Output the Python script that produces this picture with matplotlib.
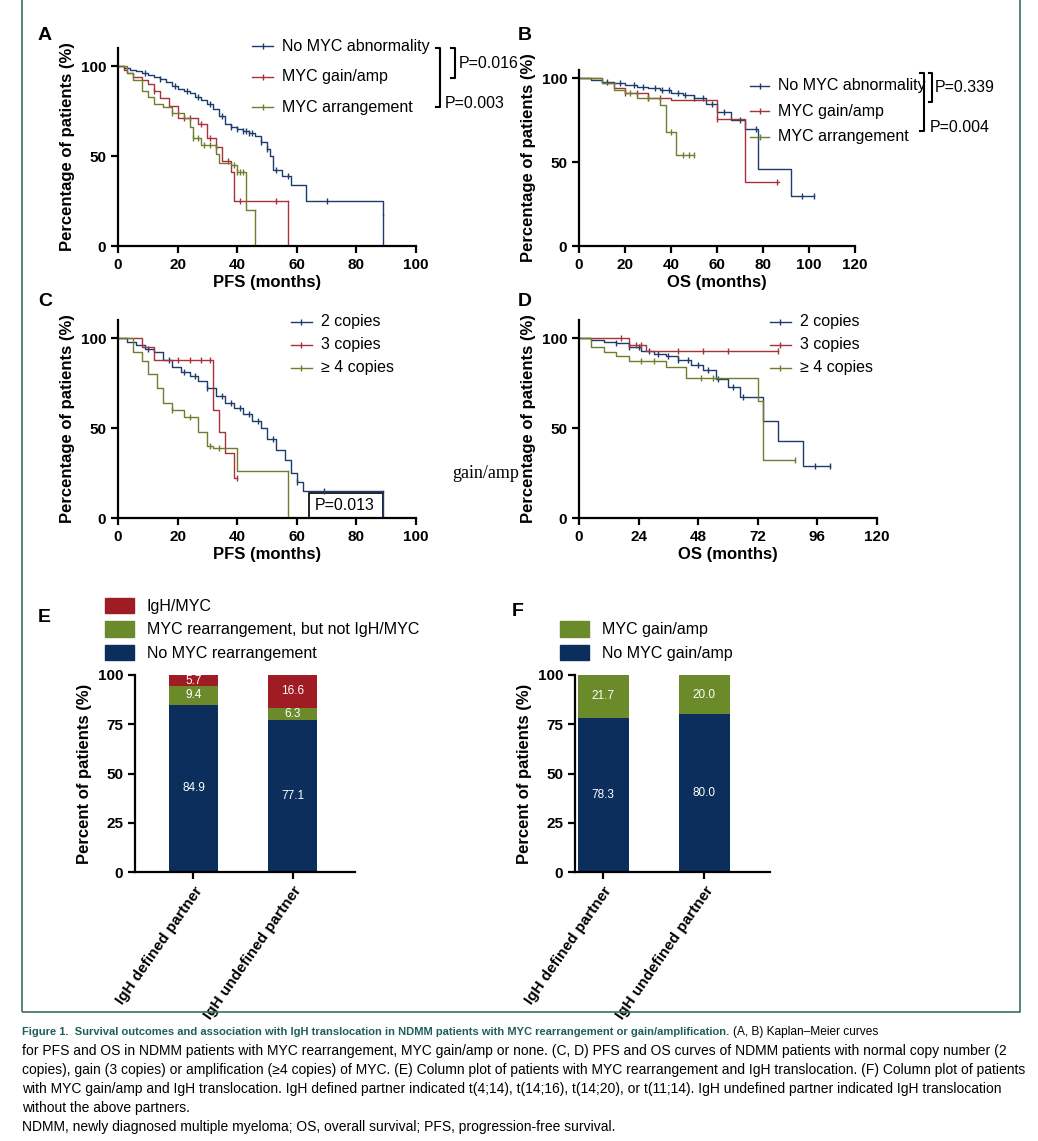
import numpy as np
import matplotlib
matplotlib.use("Agg")
import matplotlib.pyplot as plt
from matplotlib.lines import Line2D
from matplotlib.patches import Rectangle

plt.rcParams['font.family'] = ['Liberation Sans', 'DejaVu Sans']

BLUE = '#1d3c6b'
RED = '#a8323a'
OLIVE = '#6f7d2c'
NAVY = '#0b2e5c'
GRN = '#6b8a2a'
DRED = '#a01c24'

# ---- panel A (PFS by MYC status)
a_none_t = [0, 2, 4, 6, 8, 10, 12, 14, 16, 18, 20, 22, 24, 26, 28, 30, 32, 34, 36, 38, 40, 42, 44, 46, 48, 50, 51, 52, 55, 58, 63, 89]
a_none_s = [100, 99, 98, 97, 96, 95, 94, 93, 91, 89, 87, 86, 85, 83, 81, 79, 76, 72, 68, 66, 65, 64, 63, 61, 58, 54, 50, 42, 39, 34, 25, 17]
a_none_end = 89
a_none_c = [9, 14, 19, 23, 27, 31, 35, 38, 40, 42, 43, 44, 45, 48, 50, 53, 57, 70]
a_gain_t = [0, 2, 3, 5, 8, 10, 12, 14, 17, 20, 27, 30, 33, 35, 38, 39]
a_gain_s = [100, 98, 96, 94, 92, 90, 86, 82, 78, 71, 68, 60, 55, 47, 41, 25]
a_gain_end = 57
a_gain_c = [12, 22, 24, 28, 31, 33, 37, 41, 53]
a_rear_t = [0, 3, 5, 8, 10, 12, 15, 18, 22, 24, 25, 28, 33, 34, 38, 40, 43]
a_rear_s = [100, 96, 92, 86, 83, 79, 77, 74, 71, 66, 60, 56, 51, 46, 45, 41, 20]
a_rear_end = 46
a_rear_c = [18, 25, 27, 29, 31, 39, 40, 41, 42]

# ---- panel B (OS by MYC status)
b_none_t = [0, 5, 10, 15, 20, 25, 30, 35, 40, 45, 50, 55, 60, 66, 72, 78, 92]
b_none_s = [100, 99, 98, 97, 96, 95, 94, 93, 91, 90, 88, 85, 80, 75, 70, 46, 30]
b_none_end = 102
b_none_c = [12, 18, 24, 28, 33, 36, 39, 43, 46, 50, 54, 58, 63, 70, 77, 97, 102]
b_gain_t = [0, 10, 15, 20, 30, 40, 60, 72]
b_gain_s = [100, 97, 94, 91, 88, 87, 76, 38]
b_gain_end = 87
b_gain_c = [20, 25, 30, 35, 60, 86]
b_rear_t = [0, 10, 15, 20, 25, 35, 38, 42]
b_rear_s = [100, 97, 93, 91, 88, 84, 68, 54]
b_rear_end = 50
b_rear_c = [22, 30, 40, 45, 48, 50]

# ---- panel C (PFS by copy number)
c_2_t = [0, 3, 6, 9, 12, 15, 18, 21, 24, 27, 30, 33, 36, 39, 42, 45, 48, 50, 53, 56, 58, 60, 62]
c_2_s = [100, 98, 96, 94, 92, 88, 84, 81, 79, 76, 72, 68, 64, 61, 58, 54, 50, 44, 38, 32, 25, 20, 15]
c_2_end = 89
c_2_c = [10, 17, 22, 26, 30, 35, 38, 41, 44, 47, 52, 60, 69]
c_3_t = [0, 8, 12, 32, 34, 36, 39]
c_3_s = [100, 95, 88, 60, 48, 36, 22]
c_3_end = 40
c_3_c = [20, 24, 28, 31, 40]
c_4_t = [0, 5, 8, 10, 13, 15, 18, 22, 27, 30, 32, 40]
c_4_s = [100, 92, 87, 80, 72, 64, 60, 56, 48, 40, 39, 26]
c_4_end = 57
c_4_c = [18, 24, 31, 34]

# ---- panel D (OS by copy number)
d_2_t = [0, 5, 10, 15, 20, 25, 30, 35, 40, 45, 50, 55, 60, 65, 74, 80, 90]
d_2_s = [100, 99, 98, 97, 95, 93, 91, 90, 88, 85, 82, 77, 73, 67, 54, 43, 29]
d_2_end = 101
d_2_c = [15, 20, 24, 28, 32, 36, 40, 44, 48, 52, 56, 62, 66, 95, 101]
d_3_t = [0, 20, 27]
d_3_s = [100, 96, 93]
d_3_end = 80
d_3_c = [17, 20, 23, 25, 40, 50, 60, 80]
d_4_t = [0, 5, 10, 15, 20, 35, 43, 72, 74]
d_4_s = [100, 95, 92, 90, 87, 84, 78, 65, 32]
d_4_end = 87
d_4_c = [25, 30, 49, 54, 87]

# ---- panels E, F
e_groups = ['IgH defined partner', 'IgH undefined partner']
e_none = [84.9, 77.1]
e_other = [9.4, 6.3]
e_igh = [5.7, 16.6]
f_groups = ['IgH defined partner', 'IgH undefined partner']
f_none = [78.3, 80.0]
f_gain = [21.7, 20.0]

W, H = 1038, 1141
fig = plt.figure(figsize=(W / 100, H / 100), dpi=100)


def rect(x0, x1, ytop, ybot):
    return [x0 / W, 1 - ybot / H, (x1 - x0) / W, (ybot - ytop) / H]


def km(ax, t, s, end, cens, color):
    tt = list(t) + [end]
    ss = list(s) + [s[-1]]
    ax.plot(tt, ss, drawstyle='steps-post', color=color, lw=1.0, clip_on=False)
    idx = np.searchsorted(t, cens, side='right') - 1
    cy = np.array(s)[idx]
    ax.plot(cens, cy, ls='none', marker='|', ms=5, mew=1.0, color=color)


def drop(ax, t0, s0, color):
    ax.plot([t0, t0], [s0, 0], color=color, lw=1.0)


ax_letter_y = {'A': 35, 'B': 35, 'C': 302, 'D': 302}


def style(ax, xmax, xstep, ylim, xlabel, ylabel, letter, lx):
    for sp in ['top', 'right']:
        ax.spines[sp].set_visible(False)
    for sp in ['left', 'bottom']:
        ax.spines[sp].set_linewidth(1.6)
    ax.set_xlim(0, xmax)
    ax.set_ylim(0, ylim)
    ax.set_xticks(np.arange(0, xmax + 1, xstep))
    ax.set_yticks([0, 50, 100])
    ax.tick_params(width=1.6, length=5, labelsize=11)
    for lb in ax.get_xticklabels() + ax.get_yticklabels():
        lb.set_fontweight('bold')
    ax.set_xlabel(xlabel, fontsize=12, fontweight='bold', labelpad=2)
    ax.set_ylabel(ylabel, fontsize=12, fontweight='bold', labelpad=4)
    fig.text(lx / W, 1 - ax_letter_y[letter] / H, letter, fontsize=14, fontweight='bold', va='center')


def legend(ax, labels, colors, x, y, dy):
    for i, (lab, col) in enumerate(zip(labels, colors)):
        yy = y - i * dy
        ax.add_line(Line2D([x, x + 0.07], [yy, yy], color=col, lw=1, transform=ax.transAxes, clip_on=False))
        ax.add_line(Line2D([x + 0.035], [yy], marker='|', ms=5, color=col, transform=ax.transAxes, clip_on=False))
        ax.text(x + 0.1, yy, lab, transform=ax.transAxes, fontsize=11.5, va='center')


def bracket(x0, x1, y0, y1):
    fig.add_artist(Line2D(np.array([x0, x1, x1, x0]) / W, 1 - np.array([y0, y0, y1, y1]) / H, color='k', lw=1.5))


# A
axA = fig.add_axes(rect(118, 416, 48, 246))
km(axA, a_none_t, a_none_s, a_none_end, a_none_c, BLUE); drop(axA, a_none_end, a_none_s[-1], BLUE)
km(axA, a_gain_t, a_gain_s, a_gain_end, a_gain_c, RED); drop(axA, a_gain_end, a_gain_s[-1], RED)
km(axA, a_rear_t, a_rear_s, a_rear_end, a_rear_c, OLIVE); drop(axA, a_rear_end, a_rear_s[-1], OLIVE)
style(axA, 100, 20, 110, 'PFS (months)', 'Percentage of patients (%)', 'A', 38)
legend(axA, ['No MYC abnormality', 'MYC gain/amp', 'MYC arrangement'], [BLUE, RED, OLIVE], 0.45, 1.01, 0.155)
bracket(436, 440, 48, 107)
bracket(451, 455, 48, 78)
fig.text(459 / W, 1 - 63 / H, 'P=0.016', fontsize=11.5, va='center')
fig.text(445 / W, 1 - 104 / H, 'P=0.003', fontsize=11.5, va='center')

# B
axB = fig.add_axes(rect(579, 855, 70, 246))
km(axB, b_none_t, b_none_s, b_none_end, b_none_c, BLUE)
km(axB, b_gain_t, b_gain_s, b_gain_end, b_gain_c, RED)
km(axB, b_rear_t, b_rear_s, b_rear_end, b_rear_c, OLIVE)
style(axB, 120, 20, 105, 'OS (months)', 'Percentage of patients (%)', 'B', 518)
legend(axB, ['No MYC abnormality', 'MYC gain/amp', 'MYC arrangement'], [BLUE, RED, OLIVE], 0.62, 0.91, 0.145)
bracket(920, 924, 73, 131)
bracket(929, 932, 73, 102)
fig.text(935 / W, 1 - 88 / H, 'P=0.339', fontsize=11.5, va='center')
fig.text(930 / W, 1 - 128 / H, 'P=0.004', fontsize=11.5, va='center')

# C
axC = fig.add_axes(rect(118, 416, 320, 518))
km(axC, c_2_t, c_2_s, c_2_end, c_2_c, BLUE); drop(axC, c_2_end, c_2_s[-1], BLUE)
km(axC, c_3_t, c_3_s, c_3_end, c_3_c, RED)
km(axC, c_4_t, c_4_s, c_4_end, c_4_c, OLIVE); drop(axC, c_4_end, c_4_s[-1], OLIVE)
style(axC, 100, 20, 110, 'PFS (months)', 'Percentage of patients (%)', 'C', 38)
legend(axC, ['2 copies', '3 copies', '\u2265 4 copies'], [BLUE, RED, OLIVE], 0.58, 0.99, 0.115)
axC.add_patch(Rectangle((64, 0), 25, 14, fill=False, ec='k', lw=1.2, clip_on=False))
axC.text(66, 7, 'P=0.013', fontsize=11.5, va='center')
fig.text(452 / W, 1 - 474 / H, 'gain/amp', fontsize=13, family='Liberation Serif', va='center')

# D
axD = fig.add_axes(rect(579, 877, 320, 518))
km(axD, d_2_t, d_2_s, d_2_end, d_2_c, BLUE)
km(axD, d_3_t, d_3_s, d_3_end, d_3_c, RED)
km(axD, d_4_t, d_4_s, d_4_end, d_4_c, OLIVE)
style(axD, 120, 24, 110, 'OS (months)', 'Percentage of patients (%)', 'D', 518)
legend(axD, ['2 copies', '3 copies', '\u2265 4 copies'], [BLUE, RED, OLIVE], 0.64, 0.99, 0.115)


def bars(ax, groups, layers, colors, labels, xlim, legx):
    x = np.arange(len(groups))
    bottom = np.zeros(len(groups))
    for vals, col in zip(layers, colors):
        ax.bar(x, vals, 0.5, bottom=bottom, color=col, edgecolor='none')
        for xi, b, v in zip(x, bottom, vals):
            ax.text(xi, b + v / 2, f'{v:.1f}', ha='center', va='center', color='white', fontsize=8.5)
        bottom += np.array(vals)
    for sp in ['top', 'right']:
        ax.spines[sp].set_visible(False)
    for sp in ['left', 'bottom']:
        ax.spines[sp].set_linewidth(1.6)
    ax.set_xlim(*xlim)
    ax.set_ylim(0, 100)
    ax.set_yticks([0, 25, 50, 75, 100])
    ax.set_xticks(x)
    ax.set_xticklabels(groups, rotation=55, ha='right', rotation_mode='anchor', fontsize=11, fontweight='bold')
    ax.tick_params(width=1.6, length=5, labelsize=11)
    for lb in ax.get_yticklabels():
        lb.set_fontweight('bold')
    ax.set_ylabel('Percent of patients (%)', fontsize=12, fontweight='bold')
    handles = [Rectangle((0, 0), 1, 1, color=c) for c in colors[::-1]]
    ax.legend(handles, labels[::-1], loc='lower left', bbox_to_anchor=(legx, 1.0), frameon=False,
              fontsize=11.5, handlelength=1.8, handleheight=1.1, labelspacing=0.45)


axE = fig.add_axes(rect(135, 355, 675, 872))
bars(axE, e_groups, [e_none, e_other, e_igh], [NAVY, GRN, DRED],
     ['No MYC rearrangement', 'MYC rearrangement, but not IgH/MYC', 'IgH/MYC'], (-0.59, 1.63), -0.2)
fig.text(38 / W, 1 - 617 / H, 'E', fontsize=14, fontweight='bold', va='center')

axF = fig.add_axes(rect(575, 770, 675, 872))
bars(axF, f_groups, [f_none, f_gain], [NAVY, GRN], ['No MYC gain/amp', 'MYC gain/amp'], (-0.28, 1.65), -0.15)
fig.text(512 / W, 1 - 612 / H, 'F', fontsize=14, fontweight='bold', va='center')

# frame and caption
fig.add_artist(Rectangle((22 / W, 1 - 1012 / H), 998 / W, 1012 / H + 0.01, fill=False, ec='#3b6e6a', lw=1.2))
title = fig.text(22 / W, 1 - 1032 / H,
                 'Figure 1.  Survival outcomes and association with IgH translocation in NDMM patients with MYC rearrangement or gain/amplification.',
                 fontsize=8.0, fontweight='bold', color='#1f5f5a', va='center')
cap = ['(A, B) Kaplan\u2013Meier curves',
       'for PFS and OS in NDMM patients with MYC rearrangement, MYC gain/amp or none. (C, D) PFS and OS curves of NDMM patients with normal copy number (2',
       'copies), gain (3 copies) or amplification (\u22654 copies) of MYC. (E) Column plot of patients with MYC rearrangement and IgH translocation. (F) Column plot of patients',
       'with MYC gain/amp and IgH translocation. IgH defined partner indicated t(4;14), t(14;16), t(14;20), or t(11;14). IgH undefined partner indicated IgH translocation',
       'without the above partners.',
       'NDMM, newly diagnosed multiple myeloma; OS, overall survival; PFS, progression-free survival.']
fig.canvas.draw()
tx1 = title.get_window_extent().x1
fig.text(tx1 / W + 4 / W, 1 - 1032 / H, cap[0], fontsize=8.6, va='center')
for i, line in enumerate(cap[1:]):
    fig.text(22 / W, 1 - (1051 + 19 * i) / H, line, fontsize=10.0 if i < 3 else 10.0, va='center')

fig.savefig('out.png', dpi=100)
